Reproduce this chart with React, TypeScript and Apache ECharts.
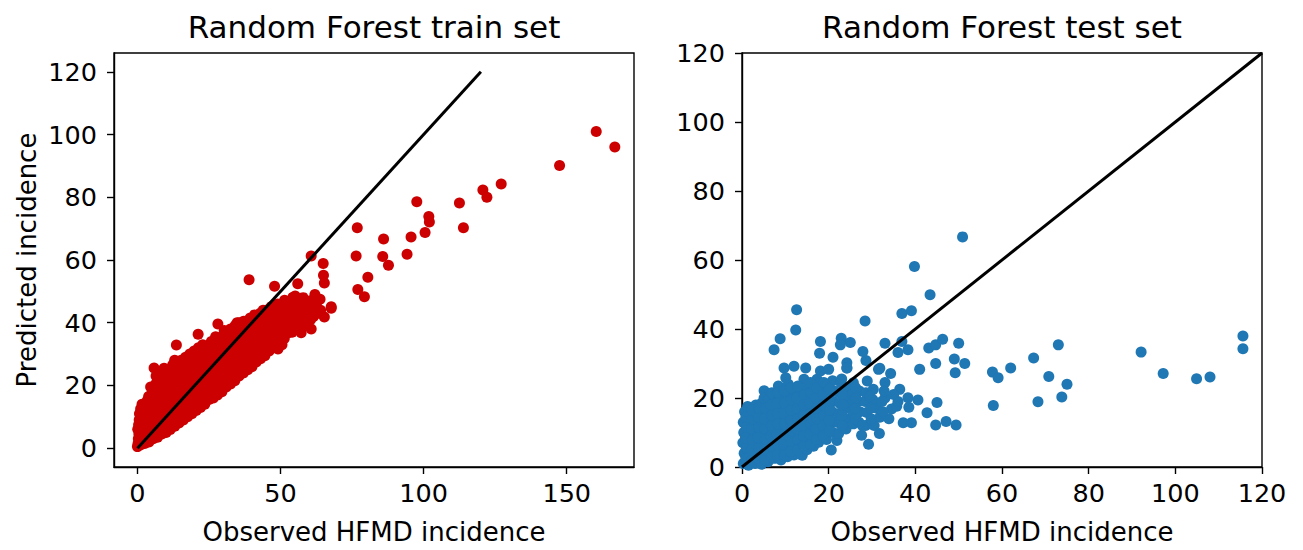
import React, { useEffect, useRef } from "react";
import * as echarts from "echarts";

// Observed vs predicted, training set (Random Forest) — band + outliers
const trainBand: number[][] = [
  [0, 0.5], [0.3, 3], [0.1, 6], [0.6, 9], [0.2, 1.5],
  [1, 1], [1.2, 4], [1, 7], [1.3, 10], [1.1, 12.5],
  [2.5, 1.5], [2.3, 4.5], [2.7, 7.5], [2.4, 10.5], [2.6, 13.5],
  [4, 2], [4.2, 5], [3.8, 8], [4.1, 11], [4.3, 14], [3.9, 16.5],
  [5.5, 3], [5.7, 6], [5.3, 9.5], [5.6, 12.5], [5.4, 15.5], [5.8, 18.5], [5.8, 25.6],
  [7, 3.5], [7.2, 7], [6.9, 10], [7.1, 13], [7.3, 16], [7, 19], [7.2, 21.5],
  [8.5, 4.5], [8.7, 8], [8.4, 11], [8.6, 14], [8.3, 17], [8.5, 20], [8.8, 22.5],
  [10, 5], [10.2, 8.5], [9.8, 11.5], [10.1, 14.5], [10.3, 17.5], [9.9, 20.5], [10.1, 23.5],
  [11.5, 6], [11.7, 9.5], [11.3, 12.5], [11.6, 15.5], [11.4, 18.5], [11.8, 21.5], [11.5, 24.5],
  [13, 7], [13.2, 10], [12.8, 13], [13.1, 16], [13.3, 19], [12.9, 22], [13.1, 25], [13.6, 32.9], [13, 28],
  [14.5, 8], [14.7, 11], [14.3, 14], [14.6, 17], [14.4, 20], [14.8, 23], [14.5, 26],
  [16, 9], [16.2, 12], [15.8, 15], [16.1, 18], [16.3, 21], [15.9, 24], [16.1, 27],
  [17.5, 10], [17.7, 13], [17.3, 16], [17.6, 19], [17.4, 22], [17.8, 25], [17.5, 28],
  [19, 11], [19.2, 14], [18.8, 17], [19.1, 20], [19.3, 23], [18.9, 26], [19.1, 29],
  [20.5, 12], [20.7, 15], [20.3, 18], [20.6, 21], [20.4, 24], [20.8, 27], [20.5, 30], [21.2, 36.3],
  [22, 13], [22.2, 16], [21.8, 19], [22.1, 22], [22.3, 25], [21.9, 28], [22.1, 31],
  [23.5, 14], [23.7, 17], [23.3, 20], [23.6, 23], [23.4, 26], [23.8, 29], [23.5, 31.5],
  [25, 15.5], [25.2, 18.5], [24.8, 21.5], [25.1, 24.5], [25.3, 27.5], [24.9, 30.5], [25.2, 32.5],
  [26.5, 16], [26.7, 19], [26.3, 22], [26.6, 25], [26.4, 28], [26.8, 31], [26.5, 33],
  [28, 17], [28.2, 20], [27.8, 23], [28.1, 26], [28.3, 29], [27.9, 32], [28.1, 34.5], [28.1, 39.6],
  [29.5, 18], [29.7, 21], [29.3, 24], [29.6, 27], [29.4, 30], [29.8, 33], [29.5, 35.5],
  [31, 19.5], [31.2, 22.5], [30.8, 25.5], [31.1, 28.5], [31.3, 31.5], [30.9, 34.5], [31.1, 37],
  [32.5, 20.5], [32.7, 23.5], [32.3, 26.5], [32.6, 29.5], [32.4, 32.5], [32.8, 35.5], [32.5, 38],
  [34, 21.5], [34.2, 24.5], [33.8, 27.5], [34.1, 30.5], [34.3, 33.5], [33.9, 36.5], [34.1, 39],
  [35.5, 23], [35.7, 26], [35.3, 29], [35.6, 32], [35.4, 35], [35.8, 38], [35.5, 40],
  [37, 24], [37.2, 27], [36.8, 30], [37.1, 33], [37.3, 36], [36.9, 39], [37.1, 40.5],
  [38.5, 25], [38.7, 28], [38.3, 31], [38.6, 34], [38.4, 37], [38.8, 40], [39, 53.7],
  [40, 26], [40.2, 29], [39.8, 32], [40.1, 35], [40.3, 38], [39.9, 41],
  [41.5, 27.5], [41.7, 30.5], [41.3, 33.5], [41.6, 36.5], [41.4, 39.5], [41.8, 42],
  [43, 28.5], [43.2, 31.5], [42.8, 34.5], [43.1, 37.5], [43.3, 40.5], [42.9, 43],
  [44.5, 29.5], [44.7, 32.5], [44.3, 35.5], [44.6, 38.5], [44.4, 41.5], [44.8, 44],
  [46, 31], [46.2, 34], [45.8, 37], [46.1, 40], [46.3, 43], [46.7, 45.1],
  [47.5, 32], [47.7, 35], [47.3, 38], [47.6, 41], [47.4, 44], [47.9, 51.6],
  [49.1, 31.6], [49.2, 34.5], [48.8, 37.5], [49.1, 40.5], [49.3, 43.5], [49, 46],
  [50.5, 33], [50.7, 36], [50.3, 39], [50.6, 42], [50.4, 45],
  [52.6, 36.8], [52, 40], [51.8, 43], [52.2, 46], [51.4, 47.2],
  [54, 37], [54.3, 40], [53.8, 43], [54.2, 46], [54.3, 48],
  [56, 38], [57.2, 36.8], [56.2, 41], [55.8, 44], [56.1, 47], [56, 52.4],
  [57.8, 39.1], [58, 42], [58.3, 45], [57.9, 48],
  [60.7, 38], [60.5, 41], [60.2, 44], [60.4, 47], [60.7, 61.3],
  [63, 43], [62.5, 46], [62, 49],
  [65.3, 41.8], [64.9, 58.9], [65, 55.1], [65.3, 52.7], [67.7, 45.1], [67.7, 44.6],
  [76.4, 61.3], [76.8, 70.3], [77, 50.6], [79.3, 48.3], [80.5, 54.5], [54.3, 48.0],
  [86.0, 66.7], [85.7, 61.1], [87.7, 58.3], [94.2, 61.8], [95.6, 67.3],
  [97.6, 78.6], [100.5, 68.8], [101.8, 73.9], [102.0, 72.1],
  [112.5, 78.2], [113.9, 70.3], [120.7, 82.3], [122.1, 80.0], [127.1, 84.2],
  [147.5, 90.1], [160.3, 101.0], [166.8, 96.0],
];

// Training set — points inside the dense core
const trainCore: number[][] = [
  [0.5, 4.5], [0.4, 7.5], [0.7, 11],
  [1.8, 2.5], [1.7, 5.5], [1.9, 8.5], [1.8, 11.5], [1.6, 14],
  [3.2, 3], [3.3, 6], [3.1, 9], [3.2, 12], [3.3, 15],
  [4.8, 3.5], [4.9, 6.5], [4.7, 10], [4.9, 13], [4.8, 17], [4.6, 19.5],
  [6.3, 4.5], [6.2, 8], [6.4, 11.5], [6.3, 14.5], [6.2, 17.5], [6.4, 20.5], [6.5, 23],
  [7.8, 5.5], [7.7, 9], [7.9, 12], [7.8, 15], [7.7, 18], [7.9, 21], [7.8, 24],
  [9.3, 6.5], [9.2, 10], [9.4, 13], [9.3, 16], [9.2, 19], [9.4, 22], [9.3, 25.5],
  [10.8, 7], [10.7, 10], [10.9, 13], [10.8, 16], [10.7, 19], [10.9, 22], [10.8, 25],
  [12.3, 8], [12.2, 11], [12.4, 14], [12.3, 17], [12.2, 20], [12.4, 23], [12.3, 26.5],
  [13.8, 9], [13.7, 12], [13.9, 15], [13.8, 18], [13.7, 21], [13.9, 24], [13.8, 27],
  [15.3, 10], [15.2, 13], [15.4, 16], [15.3, 19], [15.2, 22], [15.4, 25], [15.3, 28],
  [16.8, 11], [16.7, 14], [16.9, 17], [16.8, 20], [16.7, 23], [16.9, 26], [16.8, 29],
  [18.3, 12], [18.2, 15], [18.4, 18], [18.3, 21], [18.2, 24], [18.4, 27], [18.3, 30],
  [19.8, 13], [19.7, 16], [19.9, 19], [19.8, 22], [19.7, 25], [19.9, 28], [19.8, 31],
  [21.3, 14], [21.2, 17], [21.4, 20], [21.3, 23], [21.2, 26], [21.4, 29], [21.3, 32],
  [22.8, 15], [22.7, 18], [22.9, 21], [22.8, 24], [22.7, 27], [22.9, 30], [22.8, 33],
  [24.3, 16], [24.2, 19], [24.4, 22], [24.3, 25], [24.2, 28], [24.4, 31],
  [25.8, 17], [25.7, 20], [25.9, 23], [25.8, 26], [25.7, 29], [25.9, 32], [25.8, 34],
  [27.3, 18], [27.2, 21], [27.4, 24], [27.3, 27], [27.2, 30], [27.4, 33], [27.3, 35.5],
  [28.8, 19], [28.7, 22], [28.9, 25], [28.8, 28], [28.7, 31], [28.9, 34],
  [30.3, 20], [30.2, 23], [30.4, 26], [30.3, 29], [30.2, 32], [30.4, 35], [30.3, 37.5],
  [31.8, 21], [31.7, 24], [31.9, 27], [31.8, 30], [31.7, 33], [31.9, 36],
  [33.3, 22], [33.2, 25], [33.4, 28], [33.3, 31], [33.2, 34], [33.4, 37],
  [34.8, 23], [34.7, 26], [34.9, 29], [34.8, 32], [34.7, 35], [34.9, 38], [34.8, 40],
  [36.3, 24.5], [36.2, 27.5], [36.4, 30.5], [36.3, 33.5], [36.2, 36.5], [36.4, 39.5],
  [37.8, 25.5], [37.7, 28.5], [37.9, 31.5], [37.8, 34.5], [37.7, 37.5], [37.9, 40.5],
  [39.3, 27], [39.2, 30], [39.4, 33], [39.3, 36], [39.2, 39], [39.4, 41.5],
  [40.8, 28], [40.7, 31], [40.9, 34], [40.8, 37], [40.7, 40], [40.9, 42.5],
  [42.3, 29], [42.2, 32], [42.4, 35], [42.3, 38], [42.2, 41],
  [43.8, 30], [43.7, 33], [43.9, 36], [43.8, 39], [43.7, 42], [43.9, 44],
  [45.3, 31], [45.2, 34], [45.4, 37], [45.3, 40], [45.2, 43],
  [46.8, 32.5], [46.7, 35.5], [46.9, 38.5], [46.8, 41.5], [46.7, 44.5],
  [48.3, 33], [48.2, 36], [48.4, 39], [48.3, 42], [48.2, 45],
  [49.8, 33.5], [49.7, 36.5], [49.9, 39.5], [49.8, 42.5], [49.7, 45.5],
  [51.3, 35], [51.2, 38], [51.4, 41], [51.3, 44],
  [53, 37], [52.9, 40], [53.1, 43], [53, 46],
  [55, 38], [55.2, 41.5], [54.9, 45], [55.1, 48.5],
  [57, 39], [57.1, 42.5], [56.9, 46],
  [59, 40], [59.2, 43], [59, 46.5],
  [61.5, 42], [61.3, 45.5], [64, 44], [63.8, 47.5],
];

// Observed vs predicted, test set (Random Forest)
const testPoints: number[][] = [
  [0.3, 1], [0.5, 4], [0.2, 7], [0.4, 10], [0.3, 13], [0.6, 16],
  [1.5, 0.5], [1.7, 3], [1.4, 6], [1.6, 9], [1.5, 12], [1.8, 15], [1.3, 17.5],
  [3, 1], [3.2, 4], [2.9, 7], [3.1, 10], [3.3, 13], [3, 16], [3.2, 18],
  [4.5, 0.8], [4.7, 3.5], [4.3, 6.5], [4.6, 9.5], [4.4, 12.5], [4.8, 15.5], [4.5, 18.5], [5.1, 22.1], [5.1, 20],
  [6, 1.5], [6.2, 4.5], [5.8, 7.5], [6.1, 10.5], [6.3, 13.5], [5.9, 16.5], [6.1, 19.5],
  [7.5, 2.5], [7.7, 5.5], [7.3, 8.5], [7.6, 11.5], [7.4, 14.5], [7.8, 17.5], [7.5, 20.5], [8.4, 23.5],
  [9, 2], [9.2, 5], [8.8, 8], [9.1, 11], [9.3, 14], [8.9, 17], [9.1, 20], [9.7, 28.7], [10.1, 25.9],
  [10.5, 3], [10.7, 6], [10.3, 9], [10.6, 12], [10.4, 15], [10.8, 18], [10.5, 21], [10.7, 24],
  [12, 3.5], [12.2, 6.5], [11.8, 9.5], [12.1, 12.5], [12.3, 15.5], [11.9, 18.5], [12.1, 21.5], [12, 29.2],
  [13.9, 3.4], [13.7, 7], [13.3, 10], [13.6, 13], [13.4, 16], [13.8, 19], [13.5, 22], [14.3, 25.4], [14.7, 28.7],
  [15, 5], [15.2, 8], [14.8, 11], [15.1, 14], [15.3, 17], [14.9, 20], [15.1, 23],
  [16.5, 6], [16.7, 9], [16.3, 12], [16.6, 15], [16.4, 18], [16.8, 21], [16.5, 24], [17.3, 25.4],
  [17.7, 7.2], [18.2, 10], [17.8, 13], [18.1, 16], [18.3, 19], [17.9, 22], [18.1, 27.8], [18, 24.5],
  [19.5, 8], [19.7, 11], [19.3, 14], [19.6, 17], [19.4, 20], [19.8, 23], [20, 28.3],
  [20.6, 4.9], [21.9, 7.7], [21, 10], [21.2, 13], [20.8, 16], [21.1, 19], [21.3, 22], [20.9, 25], [21, 31.8],
  [22.3, 9.7], [22.7, 12.5], [22.3, 15.5], [22.6, 18.5], [22.4, 21.5], [22.8, 24.5],
  [24, 11], [24.2, 14], [23.8, 17], [24.1, 20], [24.3, 23], [24.2, 30.2], [24.2, 28.7],
  [25.7, 12.5], [25.7, 15.5], [25.3, 18.5], [25.6, 21.5], [25.7, 24.4],
  [27.6, 9.2], [27, 13], [27.2, 16], [26.8, 19], [27.1, 22],
  [28.8, 15.8], [29.2, 6.6], [28.5, 12], [28.4, 19], [28.9, 24.9], [28.6, 30.9], [28.6, 21.5],
  [30.3, 22.5], [31.1, 17], [31.8, 14.4], [31.7, 9.7], [30.5, 12], [30.2, 19.5], [31.5, 28.3], [31.8, 28.6],
  [34.5, 16.8], [33.9, 14], [33, 20], [34.3, 27.1], [33, 24.5], [35.7, 17.6], [36.4, 22.5], [36, 19],
  [37.2, 12.8], [39.1, 12.8], [38.3, 20.1], [40.6, 19.4], [38.5, 17.3],
  [7.4, 34.0], [8.8, 37.2], [12.4, 39.7], [12.6, 45.6], [17.9, 33.0], [18.1, 36.4],
  [22.9, 37.3], [25.0, 36.1], [22.7, 35.4], [27.9, 33.5], [28.4, 42.3],
  [33.0, 35.9], [36.9, 36.4], [36.9, 44.5], [39.1, 45.3], [39.8, 58.1], [43.4, 49.9], [50.9, 66.7],
  [38.3, 34.0], [36.0, 33.2], [43.1, 34.5], [44.7, 35.4], [46.3, 37.0], [50.0, 35.9],
  [49.0, 31.3], [51.4, 30.0], [44.7, 30.0], [41.0, 28.3], [24.2, 28.7],
  [49.2, 27.3], [57.8, 27.5], [59.1, 25.9], [62.0, 28.7], [58.0, 17.8], [45.0, 18.7],
  [42.7, 15.7], [44.7, 12.2], [47.1, 13.2], [49.4, 12.2],
  [67.3, 31.6], [73.0, 35.4], [70.8, 26.2], [75.0, 24.0], [73.8, 20.3], [68.3, 18.9],
  [92.1, 33.3], [97.2, 27.1], [104.9, 25.6], [108.0, 26.1], [115.6, 38.0], [115.6, 34.3],
];

// Test set — points inside the dense core near the origin
const testCore: number[][] = [
  [0.9, 2.5], [1, 5.5], [0.8, 8.5], [1, 11.5], [0.9, 14.5],
  [2.3, 2], [2.2, 5], [2.4, 8], [2.2, 11], [2.4, 14], [2.3, 16.5],
  [3.8, 2.5], [3.9, 5.5], [3.7, 8.5], [3.9, 11.5], [3.8, 14.5], [3.9, 17],
  [5.3, 2], [5.2, 5], [5.4, 8], [5.3, 11], [5.2, 14], [5.4, 17],
  [6.8, 3], [6.9, 6], [6.7, 9], [6.8, 12], [6.9, 15], [6.7, 18], [6.9, 21.5],
  [8.2, 3.5], [8.3, 6.5], [8.1, 9.5], [8.3, 12.5], [8.2, 15.5], [8.1, 18.5], [8.3, 21.5],
  [9.8, 3.5], [9.7, 6.5], [9.9, 9.5], [9.8, 12.5], [9.7, 15.5], [9.9, 18.5], [9.8, 22],
  [11.3, 4.5], [11.2, 7.5], [11.4, 10.5], [11.2, 13.5], [11.3, 16.5], [11.4, 19.5], [11.3, 23],
  [12.8, 5], [12.9, 8], [12.7, 11], [12.9, 14], [12.8, 17], [12.7, 20], [12.9, 23.5],
  [14.3, 6], [14.2, 9], [14.4, 12], [14.3, 15], [14.2, 18], [14.4, 21],
  [15.8, 6.5], [15.7, 9.5], [15.9, 12.5], [15.8, 15.5], [15.7, 18.5], [15.9, 21.5], [15.8, 24.5],
  [17.2, 8], [17.1, 11], [17.3, 14], [17.2, 17], [17.1, 20], [17.3, 23],
  [18.8, 9], [18.7, 12], [18.9, 15], [18.8, 18], [18.7, 21], [18.9, 24.5],
  [20.2, 10.5], [20.1, 13.5], [20.3, 16.5], [20.2, 19.5], [20.1, 22.5],
  [23.2, 12], [23.1, 15], [23.3, 18], [23.2, 21], [23, 25.5],
  [26.2, 14], [26.1, 17], [26.3, 20], [26.2, 23],
  [29.8, 14], [29.7, 17], [29.5, 20.5], [27.8, 12],
  [32.5, 16], [32.3, 19], [32.8, 22], [35, 21],
];

const identityLine: number[][] = [[0, 0], [120, 120]];
const trainXTicks = [0, 50, 100, 150];
const trainYTicks = [0, 20, 40, 60, 80, 100, 120];
const testTicks = [0, 20, 40, 60, 80, 100, 120];
const titles = ["Random Forest train set", "Random Forest test set"];
const xLabel = "Observed HFMD incidence";
const yLabel = "Predicted incidence";

const FONT = "DejaVu Sans";

export default function App() {
  const ref = useRef<HTMLDivElement>(null);
  useEffect(() => {
    const chart = echarts.init(ref.current!, null, { renderer: "svg" });
    const line = { color: "#000", width: 1.4 };
    const mkAxis = (gridIndex: number, min: number, max: number, ticks: number[], margin: number, extra: any) => ({
      type: "value",
      gridIndex,
      min,
      max,
      axisLine: { show: true, onZero: false, lineStyle: line },
      axisTick: { show: true, inside: false, length: 7, customValues: ticks, lineStyle: line },
      axisLabel: { customValues: ticks, fontSize: 25.5, color: "#000", fontFamily: FONT, margin },
      splitLine: { show: false },
      ...extra,
    });
    const xName = {
      name: xLabel,
      nameLocation: "middle",
      nameGap: 52,
      nameTextStyle: { fontSize: 26, color: "#000", fontFamily: FONT },
    };
    const titleStyle = (text: string) => ({
      text,
      font: `31px "${FONT}"`,
      fill: "#000",
      align: "center",
      verticalAlign: "middle",
      textAlign: "center",
      textVerticalAlign: "middle",
    });
    const gridTop = 53;
    const gridHeight = 419;
    chart.setOption({
      animation: false,
      backgroundColor: "#fff",
      grid: [
        { left: 114, top: gridTop, width: 520, height: gridHeight, show: true, borderColor: "#000", borderWidth: 1.4, backgroundColor: "transparent" },
        { left: 742, top: gridTop, width: 520, height: gridHeight, show: true, borderColor: "#000", borderWidth: 1.4, backgroundColor: "transparent" },
      ],
      xAxis: [
        mkAxis(0, -8.2, 173.5, trainXTicks, 13, xName),
        mkAxis(1, 0, 120, testTicks, 13, xName),
      ],
      yAxis: [
        mkAxis(0, -6, 126, trainYTicks, 17, {
          name: yLabel,
          nameLocation: "middle",
          nameGap: 74,
          nameRotate: 90,
          nameTextStyle: { fontSize: 26, color: "#000", fontFamily: FONT },
        }),
        mkAxis(1, 0, 120, testTicks, 17, {}),
      ],
      graphic: [
        { type: "text", x: 374, y: 27, style: titleStyle(titles[0]) },
        { type: "text", x: 1002, y: 27, style: titleStyle(titles[1]) },
      ],
      series: [
        {
          type: "scatter",
          xAxisIndex: 0,
          yAxisIndex: 0,
          data: [...trainBand, ...trainCore],
          symbolSize: 11,
          itemStyle: { color: "#cc0000", opacity: 1 },
          z: 2,
        },
        {
          type: "line",
          xAxisIndex: 0,
          yAxisIndex: 0,
          data: identityLine,
          showSymbol: false,
          lineStyle: { color: "#000", width: 3 },
          z: 3,
        },
        {
          type: "scatter",
          xAxisIndex: 1,
          yAxisIndex: 1,
          data: [...testPoints, ...testCore],
          symbolSize: 11,
          itemStyle: { color: "#1f77b4", opacity: 1 },
          z: 2,
        },
        {
          type: "line",
          xAxisIndex: 1,
          yAxisIndex: 1,
          data: identityLine,
          showSymbol: false,
          lineStyle: { color: "#000", width: 3 },
          z: 3,
        },
      ],
    });
    return () => chart.dispose();
  }, []);
  return (
    <div
      ref={ref}
      style={{ position: "fixed", left: 0, top: 0, width: 1303, height: 550, background: "#fff" }}
    />
  );
}
